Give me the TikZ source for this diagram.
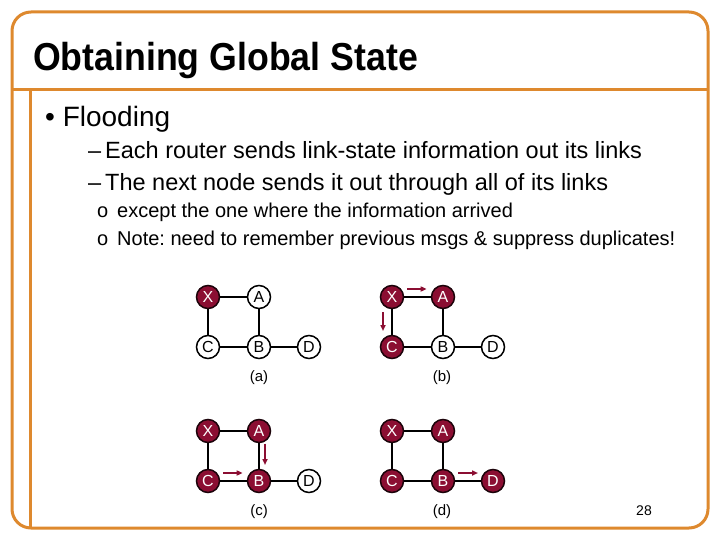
\documentclass[tikz,border=0pt]{standalone}
\usepackage{fontspec}
\setmainfont{Liberation Sans}
\newfontfamily\titlefont[FakeStretch=0.915]{Liberation Sans}
\usetikzlibrary{arrows.meta,calc}
\definecolor{frameor}{RGB}{222,137,46}
\definecolor{maroon}{RGB}{139,14,50}
\frenchspacing
\tikzset{
  frameline/.style={draw=frameor,line width=3},
  wnode/.style={circle,draw=black,line width=1.5,fill=white,minimum size=23,inner sep=0,text=black,font=\fontsize{16}{16}\selectfont},
  rnode/.style={circle,draw=black!80!maroon,line width=1.5,fill=maroon,minimum size=23,inner sep=0,text=white,font=\fontsize{16}{16}\selectfont},
  edge/.style={draw=black,line width=2},
  msg/.style={draw=maroon,line width=1.6,-{Triangle[length=6,width=5]}},
  glabel/.style={font=\fontsize{15}{15}\selectfont},
}
\newcommand\flgraph[8]{%
  \node[#4] (#1X) at (#2,#3) {X};
  \node[#5] (#1A) at (#2+51,#3) {A};
  \node[#6] (#1C) at (#2,#3+50) {C};
  \node[#7] (#1B) at (#2+51,#3+50) {B};
  \node[#8] (#1D) at (#2+101,#3+50) {D};
  \draw[edge] (#1X) -- (#1A);
  \draw[edge] (#1X) -- (#1C);
  \draw[edge] (#1A) -- (#1B);
  \draw[edge] (#1C) -- (#1B);
  \draw[edge] (#1B) -- (#1D);
}
\begin{document}
\begin{tikzpicture}[x=1pt,y=-1pt]
\useasboundingbox (0,0) rectangle (720,540);
\fill[white] (0,0) rectangle (720,540);
% frame
\draw[frameline,rounded corners=19] (12,12) rectangle (708,528);
\draw[frameline] (12,90) -- (708,90);
\draw[frameline] (30,90) -- (30,528);
% title
\node[anchor=base west,inner sep=0,font=\titlefont\bfseries\fontsize{39}{39}\selectfont] (title) at (33,71) {Obtaining Global State};
% bullets
\node[anchor=base west,inner sep=0,font=\fontsize{28}{28}\selectfont] (b1) at (45,127) {\textbullet\ Flooding};
\node[anchor=base west,inner sep=0,font=\fontsize{23.5}{23.5}\selectfont] (b2) at (88,159) {--\,Each router sends link-state information out its links};
\node[anchor=base west,inner sep=0,font=\fontsize{23.5}{23.5}\selectfont] (b3) at (88,191) {--\,The next node sends it out through all of its links};
\node[anchor=base west,inner sep=0,font=\fontsize{20}{20}\selectfont] (b4) at (97,218) {o\ \,except the one where the information arrived};
\node[anchor=base west,inner sep=0,font=\fontsize{20}{20}\selectfont] (b5) at (97,245) {o\ \,Note: need to remember previous msgs \& suppress duplicates!};
% graphs
\flgraph{a}{208}{297}{rnode}{wnode}{wnode}{wnode}{wnode}
\flgraph{b}{392}{297}{rnode}{rnode}{rnode}{wnode}{wnode}
\flgraph{c}{208}{431}{rnode}{rnode}{rnode}{rnode}{wnode}
\flgraph{d}{392}{431}{rnode}{rnode}{rnode}{rnode}{rnode}
\node[glabel] (la) at (259,378) {(a)};
\node[glabel] (lb) at (442,378) {(b)};
\node[glabel] (lc) at (259,512) {(c)};
\node[glabel] (ld) at (442,512) {(d)};
% message arrows
\draw[msg] ($(bX)!0.3!(bA)+(0,-8)$) -- ($(bX)!0.68!(bA)+(0,-8)$);
\draw[msg] ($(bX)!0.3!(bC)+(-9,0)$) -- ($(bX)!0.68!(bC)+(-9,0)$);
\draw[msg] ($(cA)!0.25!(cB)+(6,0)$) -- ($(cA)!0.68!(cB)+(6,0)$);
\draw[msg] ($(cC)!0.3!(cB)+(0,-8)$) -- ($(cC)!0.68!(cB)+(0,-8)$);
\draw[msg] ($(dB)!0.3!(dD)+(0,-8)$) -- ($(dB)!0.7!(dD)+(0,-8)$);
% page number
\node[font=\fontsize{14}{14}\selectfont] (pg) at (644,511) {28};
\end{tikzpicture}
\end{document}
